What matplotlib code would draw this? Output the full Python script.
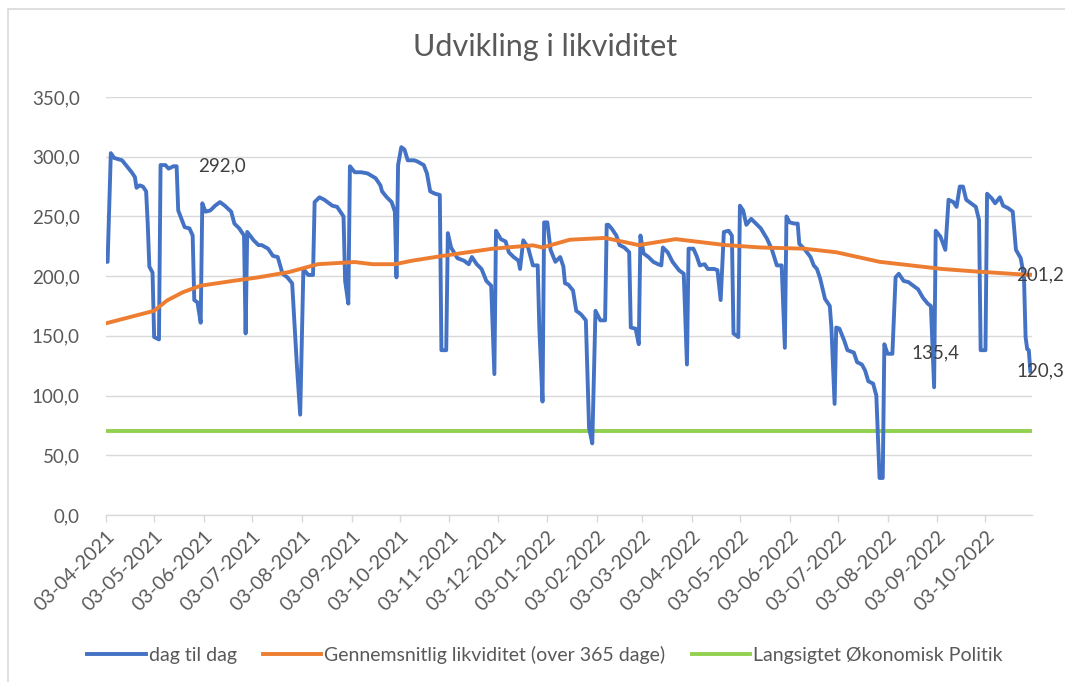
import numpy as np
import pandas as pd
import matplotlib
matplotlib.use("Agg")
import matplotlib.pyplot as plt
import matplotlib.dates as mdates
from matplotlib.patches import Rectangle

plt.rcParams['font.family'] = ['Lato', 'DejaVu Sans']

title = "Udvikling i likviditet"
start_date = "2021-04-03"
end_day = 577

# dag til dag (day offset from start_date, value)
daily_days = [0, 1, 3, 5, 10, 13, 16, 18, 19, 21, 23, 25, 26, 27, 29, 30, 33, 34, 37, 39, 42, 44, 45, 47, 49, 52,
              54, 55, 57, 59, 60, 62, 65, 68, 71, 74, 78, 80, 83, 86, 87, 88, 92, 95, 97, 101, 104, 107, 110, 113,
              116, 119, 121, 123, 126, 129, 130, 133, 136, 141, 144, 148, 149, 151, 152, 155, 159, 163, 168, 171,
              172, 175, 178, 180, 181, 182, 184, 186, 188, 192, 194, 198, 200, 202, 205, 208, 209, 212, 213, 215,
              219, 223, 226, 228, 231, 234, 237, 240, 242, 243, 246, 249, 251, 254, 257, 258, 260, 263, 266, 269,
              270, 272, 273, 275, 277, 280, 283, 285, 286, 288, 291, 293, 296, 299, 301, 303, 305, 308, 311, 312,
              313, 315, 318, 320, 323, 326, 327, 330, 332, 333, 335, 338, 341, 344, 346, 347, 350, 353, 357, 360,
              362, 363, 366, 368, 370, 373, 375, 379, 381, 383, 385, 388, 390, 391, 394, 395, 397, 399, 402, 405,
              408, 412, 415, 418, 421, 423, 424, 426, 429, 431, 432, 435, 439, 441, 443, 445, 448, 451, 452, 454,
              455, 457, 460, 462, 466, 468, 471, 473, 475, 478, 480, 482, 484, 485, 487, 490, 492, 494, 497, 500,
              503, 506, 509, 512, 514, 516, 517, 520, 523, 525, 528, 530, 532, 534, 536, 539, 542, 544, 545, 548,
              549, 552, 554, 557, 559, 562, 565, 567, 570, 572, 573, 574, 575, 576]
daily_values = [212, 212, 303, 299, 297, 292, 287, 283, 274, 276, 275, 271, 244, 208, 203, 149, 147, 293, 293, 290,
                292, 292, 255, 248, 241, 240, 234, 180, 178, 161, 261, 254, 255, 259, 262, 259, 254, 244, 240, 234,
                152, 237, 230, 226, 226, 223, 217, 216, 202, 199, 194, 124, 84, 206, 201, 201, 262, 266, 264, 259,
                258, 250, 196, 177, 292, 287, 287, 286, 282, 276, 271, 266, 262, 254, 199, 293, 308, 306, 297, 297,
                296, 293, 286, 271, 269, 268, 138, 138, 236, 224, 215, 213, 210, 216, 210, 206, 196, 192, 118, 238,
                231, 229, 220, 216, 213, 206, 230, 224, 209, 209, 157, 95, 245, 245, 222, 212, 216, 208, 194, 193,
                188, 171, 168, 163, 73, 60, 171, 163, 163, 243, 243, 240, 234, 226, 224, 220, 157, 156, 143, 234,
                219, 216, 212, 210, 209, 224, 220, 212, 205, 202, 126, 223, 223, 217, 209, 210, 206, 206, 205, 180,
                237, 238, 234, 152, 149, 259, 255, 243, 248, 244, 240, 231, 222, 209, 209, 140, 250, 245, 244, 244,
                227, 223, 216, 209, 206, 198, 181, 175, 157, 93, 157, 156, 146, 138, 136, 128, 126, 121, 112, 110,
                100, 31, 31, 143, 135, 135, 199, 202, 196, 195, 192, 189, 182, 177, 175, 107, 238, 233, 222, 264,
                262, 258, 275, 275, 264, 261, 258, 247, 138, 138, 269, 265, 261, 266, 259, 257, 254, 222, 215, 199,
                149, 139, 138, 120.3]

# Gennemsnitlig likviditet (over 365 dage)
avg_days = [0, 30, 38, 48, 59, 79, 95, 114, 132, 155, 166, 180, 191, 210, 241, 266, 272, 289, 311, 332, 355,
            386, 408, 435, 455, 482, 521, 541, 573, 576]
avg_values = [160.5, 171, 179.6, 186.6, 192, 196, 199, 203.4, 210, 211.8, 210, 210, 213, 217, 223, 225.8, 224,
              230.5, 232, 226, 231, 226, 224, 223, 220, 212, 206, 204, 201.2, 201.2]

# Langsigtet Økonomisk Politik
policy_value = 70.0

legend_labels = ["dag til dag", "Gennemsnitlig likviditet (over 365 dage)", "Langsigtet Økonomisk Politik"]

# data labels (day offset, value, text)
label_days = [72, 517, 567, 567]
label_values = [292.0, 135.4, 201.2, 120.3]
label_texts = ["292,0", "135,4", "201,2", "120,3"]
label_ha = ["center", "center", "left", "left"]

y_ticks = [0, 50, 100, 150, 200, 250, 300, 350]

# ---------------------------------------------------------------
start = pd.Timestamp(start_date)
d_dates = start + pd.to_timedelta(daily_days, unit="D")
a_dates = start + pd.to_timedelta(avg_days, unit="D")
end = start + pd.Timedelta(days=end_day)

W, H = 1065, 682
fig = plt.figure(figsize=(W / 100, H / 100), dpi=100)
ax = fig.add_axes([106 / W, (H - 515) / H, (1032 - 106) / W, (515 - 97) / H])

blue = "#4472C4"
orange = "#ED7D31"
green = "#92D050"
grid = "#D9D9D9"
txt = "#595959"

ax.plot(d_dates, daily_values, color=blue, lw=2.8, solid_joinstyle="round", label=legend_labels[0], zorder=3)
ax.plot(a_dates, avg_values, color=orange, lw=2.8, solid_joinstyle="round", label=legend_labels[1], zorder=4)
ax.plot([start, start + pd.Timedelta(days=daily_days[-1])], [policy_value, policy_value], color=green, lw=2.8,
        label=legend_labels[2], zorder=2)

ax.set_xlim(start, end)
ax.set_ylim(0, 350)
ax.set_yticks(y_ticks)
ax.set_yticklabels([f"{v:.1f}".replace(".", ",") for v in y_ticks])
ax.yaxis.grid(True, color=grid, lw=1)
ax.set_axisbelow(True)
for s in ["top", "right", "left"]:
    ax.spines[s].set_visible(False)
ax.spines["bottom"].set_color(grid)
ax.spines["bottom"].set_linewidth(1)

xt = pd.date_range("2021-04-01", "2022-10-01", freq="MS") + pd.Timedelta(days=2)
ax.set_xticks(xt)
ax.xaxis.set_major_formatter(mdates.DateFormatter("%d-%m-%Y"))
plt.setp(ax.get_xticklabels(), rotation=45, ha="right", va="top", rotation_mode="anchor")
ax.tick_params(axis="x", colors=grid, length=5, width=1, labelcolor=txt, labelsize=14, pad=4)
ax.tick_params(axis="y", length=0, labelcolor=txt, labelsize=13.5, pad=19)

for dd, vv, tt, ha in zip(label_days, label_values, label_texts, label_ha):
    ax.text(start + pd.Timedelta(days=dd), vv, tt, ha=ha, va="center", fontsize=13.5, color="#404040",
            clip_on=False, zorder=6)

fig.text(545 / W, 1 - 47 / H, title, ha="center", va="center", fontsize=22, color=txt)

leg = fig.legend(loc="center", bbox_to_anchor=(545 / W, 1 - 655 / H), ncol=3, frameon=False, fontsize=14,
                 handlelength=3.0, handletextpad=0.15, columnspacing=1.35, labelcolor=txt)

fig.add_artist(Rectangle((8 / W, -0.05), 1.1, 1 - 9 / H + 0.05, transform=fig.transFigure, fill=False,
                         edgecolor=grid, lw=1.2))

fig.savefig("out.png", dpi=100)
